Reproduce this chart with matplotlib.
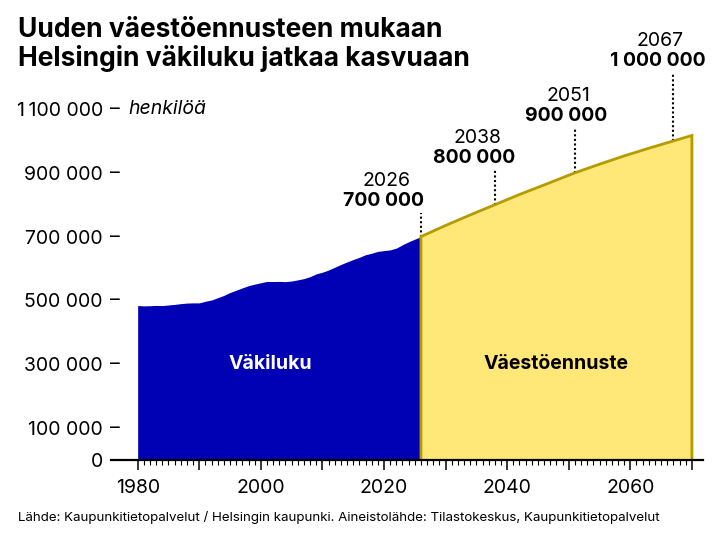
import matplotlib
matplotlib.use("Agg")
import matplotlib.pyplot as plt
from matplotlib.ticker import FixedLocator, NullFormatter

plt.rcParams["font.family"] = ["Inter", "DejaVu Sans"]

# Väkiluku (toteutunut)
hist_years = list(range(1980, 2027))
hist_pop = [
    484000, 483000, 483500, 484500, 484000, 485800, 487600, 490000, 491800, 492400,
    492400, 497500, 501500, 508600, 515800, 525000, 532000, 539400, 546300, 551100,
    555500, 559700, 559300, 559700, 559000, 560900, 564500, 568500, 574600, 583400,
    588500, 595400, 604000, 612700, 620700, 628200, 635200, 643300, 648000, 653800,
    656200, 658500, 664000, 674500, 684000, 692000, 700000,
]

# Väestöennuste
fc_years = [2026, 2030, 2034, 2038, 2042, 2046, 2051, 2055, 2059, 2063, 2067, 2070]
fc_pop = [700000, 735000, 768000, 800000, 832000, 862000, 900000, 927000,
          953000, 977000, 1000000, 1017000]

# merkkipaalut
ms_years = [2026, 2038, 2051, 2067]
ms_values = [700000, 800000, 900000, 1000000]
ms_labels = ["700 000", "800 000", "900 000", "1 000 000"]

ytick_vals = [0, 100000, 300000, 500000, 700000, 900000, 1100000]
ytick_labels = ["0", "100 000", "300 000", "500 000", "700 000", "900 000", "1\u2009100 000"]
xtick_major = list(range(1980, 2071, 10))
xtick_labels = ["1980", "", "2000", "", "2020", "", "2040", "", "2060", ""]

title_lines = ["Uuden väestöennusteen mukaan", "Helsingin väkiluku jatkaa kasvuaan"]
source = ("Lähde: Kaupunkitietopalvelut / Helsingin kaupunki. "
          "Aineistolähde: Tilastokeskus, Kaupunkitietopalvelut")

BLUE = "#0000b4"
YELLOW = "#ffe878"
GOLD = "#b39b00"

fig = plt.figure(figsize=(7.2, 5.4), dpi=100)
ax = fig.add_axes([111 / 720, 80 / 540, 592 / 720, 351 / 540])

ax.fill_between(hist_years, hist_pop, 0, color=BLUE, lw=0)
ax.fill_between(fc_years, fc_pop, 0, color=YELLOW, lw=0)
ax.plot([fc_years[0]] + fc_years + [fc_years[-1]], [0] + fc_pop + [0],
        color=GOLD, lw=2, solid_joinstyle="miter", zorder=3)

ax.set_xlim(1975.67, 2071.8)
ax.set_ylim(0, 1100000)

for s in ("left", "right", "top"):
    ax.spines[s].set_visible(False)
ax.spines["bottom"].set_linewidth(1.6)
ax.spines["bottom"].set_zorder(4)

ax.xaxis.set_major_locator(FixedLocator(xtick_major))
ax.set_xticklabels(xtick_labels)
ax.xaxis.set_minor_locator(FixedLocator(list(range(1980, 2071))))
ax.xaxis.set_minor_formatter(NullFormatter())
ax.tick_params(axis="x", which="major", length=7, width=1.1, pad=7, labelsize=14)
ax.tick_params(axis="x", which="minor", length=3.6, width=0.8)

ax.set_yticks(ytick_vals)
ax.set_yticklabels(ytick_labels)
ax.tick_params(axis="y", length=0, pad=5.8, labelsize=14)

ytr = ax.get_yaxis_transform()
for v in ytick_vals[1:]:
    ax.text(0.007, v, "–", transform=ytr, ha="center", va="center", fontsize=14)
ax.text(0.030, ytick_vals[-1], "henkilöä", transform=ytr, ha="left", va="center",
        fontsize=14, style="italic")

# merkkipaalujen tekstit ja pisteviivat
dx = [-6.0, -3.3, -1.5, -2.6]
dy = [112000, 147000, 178000, 251000]
for yr, val, lab, ox, oy in zip(ms_years, ms_values, ms_labels, dx, dy):
    ax.plot([yr, yr], [val, val + oy - 38000], color="black", lw=1.5,
            ls=(0, (1, 1.2)), clip_on=False, zorder=2)
    ax.text(yr + ox, val + oy, lab, ha="center", va="center", fontsize=14,
            fontweight="bold", clip_on=False)
    ax.text(yr + ox + 0.4, val + oy + 63000, str(yr), ha="center", va="center",
            fontsize=14, clip_on=False)

ax.text(2001.5, 300000, "Väkiluku", color="white", ha="center", va="center",
        fontsize=14, fontweight="bold")
ax.text(2047.9, 300000, "Väestöennuste", color="black", ha="center", va="center",
        fontsize=14, fontweight="bold")

for line, base_px in zip(title_lines, [37, 66]):
    fig.text(18 / 720, 1 - base_px / 540, line, ha="left", va="baseline",
             fontsize=19, fontweight="bold")
fig.text(18 / 720, 1 - 518 / 540, source, ha="left", va="center", fontsize=9.6)

fig.savefig("out.png", dpi=100, facecolor="white")
